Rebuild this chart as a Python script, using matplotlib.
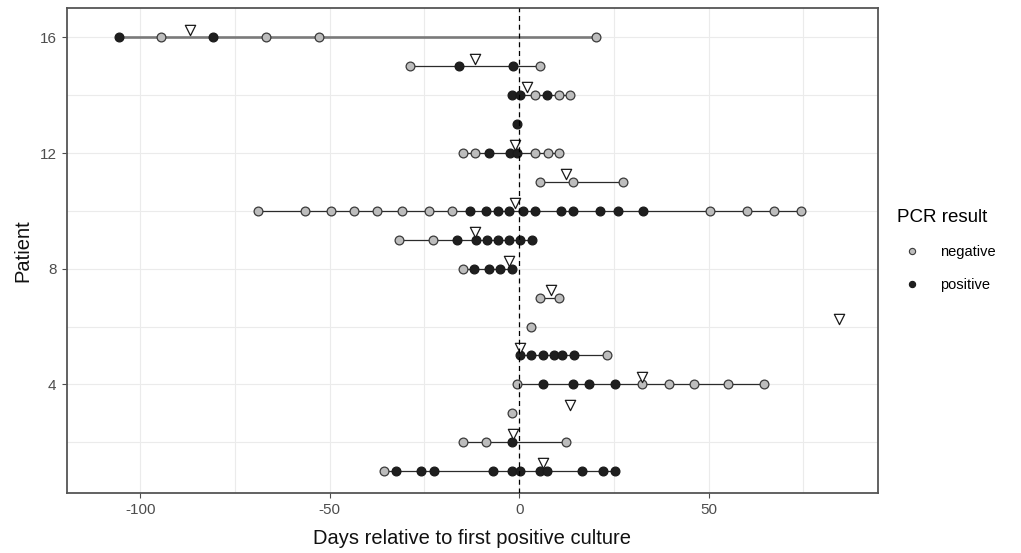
import matplotlib
matplotlib.use('Agg')
import matplotlib.pyplot as plt
from matplotlib.lines import Line2D

plt.rcParams['font.family'] = ['Liberation Sans', 'DejaVu Sans']
plt.rcParams['axes.unicode_minus'] = False

# negative PCR results (patient, day)
neg_patient = [1,
               2, 2, 2,
               3,
               4, 4, 4, 4, 4, 4,
               5,
               6,
               7, 7,
               8,
               9, 9,
               10, 10, 10, 10, 10, 10, 10, 10, 10, 10, 10, 10,
               11, 11, 11,
               12, 12, 12, 12, 12,
               14, 14, 14,
               15, 15,
               16, 16, 16, 16]
neg_day = [-35.6,
           -14.7, -8.8, 12.4,
           -1.8,
           -0.6, 32.5, 39.4, 46.2, 55.2, 64.5,
           23.3,
           3.2,
           5.4, 10.6,
           -14.9,
           -31.8, -22.8,
           -68.8, -56.5, -49.7, -43.7, -37.5, -30.8, -23.7, -17.8, 50.4, 60.2, 67.1, 74.3,
           5.5, 14.2, 27.3,
           -14.9, -11.6, 4.2, 7.5, 10.6,
           4.2, 10.5, 13.5,
           -28.8, 5.6,
           -94.5, -66.8, -52.8, 20.3]

# positive PCR results (patient, day)
pos_patient = [1, 1, 1, 1, 1, 1, 1, 1, 1, 1, 1,
               2,
               4, 4, 4, 4,
               5, 5, 5, 5, 5, 5,
               8, 8, 8, 8,
               9, 9, 9, 9, 9, 9, 9,
               10, 10, 10, 10, 10, 10, 10, 10, 10, 10, 10,
               12, 12, 12,
               13,
               14, 14, 14,
               15, 15,
               16, 16]
pos_day = [-32.5, -25.9, -22.6, -6.8, -1.9, 0.3, 5.4, 7.3, 16.5, 22.2, 25.3,
           -1.8,
           6.2, 14.3, 18.3, 25.3,
           0.1, 3.2, 6.2, 9.1, 11.3, 14.5,
           -11.9, -7.9, -5.0, -1.8,
           -16.4, -11.4, -8.5, -5.6, -2.6, 0.3, 3.3,
           -12.9, -8.7, -5.7, -2.6, 1.1, 4.2, 11.1, 14.2, 21.4, 26.2, 32.6,
           -7.9, -2.4, -0.6,
           -0.6,
           -1.8, 0.3, 7.3,
           -15.9, -1.7,
           -105.5, -80.7]

# triangle markers (event day per patient)
tri_patient = [1, 2, 3, 4, 5, 6, 7, 8, 9, 10, 11, 12, 14, 15, 16]
tri_day = [6.4, -1.5, 13.5, 32.5, 0.3, 84.3, 8.3, -2.6, -11.6, -1.1, 12.4, -1.1, 2.0, -11.6, -86.8]

fig = plt.figure(figsize=(10.21, 5.53), dpi=100)
ax = fig.add_axes([0.0656, 0.1085, 0.7941, 0.8765])

# lines from first to last sample per patient
for p in range(1, 17):
    days = [d for q, d in zip(neg_patient, neg_day) if q == p] + \
           [d for q, d in zip(pos_patient, pos_day) if q == p]
    if len(days) < 2:
        continue
    if p == 16:
        ax.plot([min(days), max(days)], [p, p], color='#7a7a7a', lw=1.9, zorder=2)
    else:
        ax.plot([min(days), max(days)], [p, p], color='#2b2b2b', lw=0.9, zorder=2)

ax.scatter(neg_day, neg_patient, s=40, facecolor='#bdbdbd', edgecolor='#3a3a3a', linewidth=0.9, zorder=3)
ax.scatter(pos_day, pos_patient, s=40, facecolor='#1f1f1f', edgecolor='#1a1a1a', linewidth=0.9, zorder=3)
ax.scatter(tri_day, [p + 0.27 for p in tri_patient], s=55, marker='v', facecolor='white',
           edgecolor='#1a1a1a', linewidth=0.9, zorder=4)

ax.axvline(0, color='black', lw=0.9, linestyle=(0, (4, 3)), zorder=5)

ax.set_xlim(-119.3, 94.6)
ax.set_ylim(0.24, 17.01)
ax.set_xticks([-100, -50, 0, 50])
ax.set_xticks([-75, -25, 25, 75], minor=True)
ax.set_yticks([4, 8, 12, 16])
ax.set_yticks([2, 6, 10, 14], minor=True)
ax.grid(True, which='both', color='#ebebeb', lw=0.8, zorder=0)
ax.set_axisbelow(True)
ax.tick_params(axis='both', which='major', length=3.5, width=0.8, color='#4d4d4d',
               labelcolor='#4d4d4d', labelsize=11, pad=4)
ax.tick_params(axis='both', which='minor', length=0)
for s in ax.spines.values():
    s.set_color('#555555')
    s.set_linewidth(1.3)

ax.set_xlabel('Days relative to first positive culture', fontsize=14.5, color='#111111', labelpad=8)
ax.set_ylabel('Patient', fontsize=14.5, color='#111111', labelpad=5)

handles = [Line2D([], [], marker='o', linestyle='none', markersize=4.5, markerfacecolor='#bdbdbd',
                  markeredgecolor='#3a3a3a', markeredgewidth=0.8),
           Line2D([], [], marker='o', linestyle='none', markersize=4.5, markerfacecolor='#1f1f1f',
                  markeredgecolor='#1a1a1a', markeredgewidth=0.8)]
leg = ax.legend(handles, ['negative', 'positive'], title='PCR result', loc='center left',
                bbox_to_anchor=(1.008, 0.5), frameon=False, fontsize=10.5, title_fontsize=13.5,
                labelspacing=1.3, handletextpad=0.9, alignment='left')

fig.savefig('out.png', dpi=100)
